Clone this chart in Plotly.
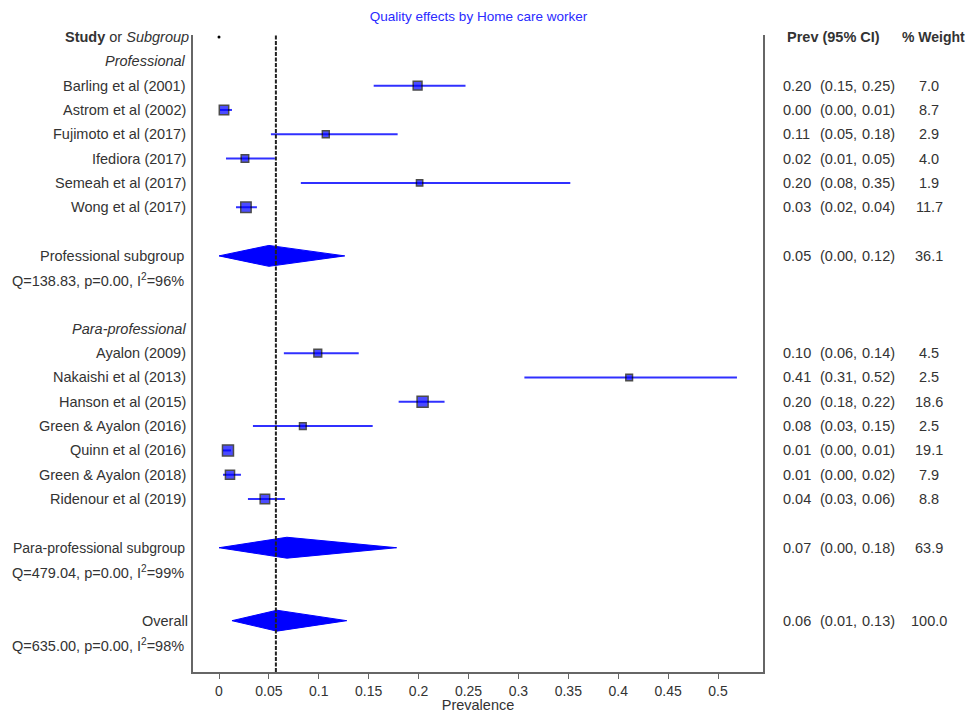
import plotly.graph_objects as go

# ---------------- data ----------------
title_text = "Quality effects by Home care worker"

prof_studies = ["Barling et al (2001)", "Astrom et al (2002)", "Fujimoto et al (2017)",
                "Ifediora (2017)", "Semeah et al (2017)", "Wong et al (2017)"]
para_studies = ["Ayalon (2009)", "Nakaishi et al (2013)", "Hanson et al (2015)",
                "Green & Ayalon (2016)", "Quinn et al (2016)", "Green & Ayalon (2018)",
                "Ridenour et al (2019)"]

# plotted estimates
prof_est = [0.199, 0.005, 0.107, 0.026, 0.201, 0.027]
prof_lo = [0.155, 0.001, 0.052, 0.007, 0.082, 0.017]
prof_hi = [0.247, 0.013, 0.179, 0.056, 0.352, 0.038]
para_est = [0.099, 0.411, 0.204, 0.084, 0.009, 0.011, 0.046]
para_lo = [0.065, 0.306, 0.180, 0.034, 0.004, 0.004, 0.029]
para_hi = [0.140, 0.519, 0.226, 0.154, 0.012, 0.022, 0.066]

# reported values (right-hand table)
prof_rep_est = [0.20, 0.00, 0.11, 0.02, 0.20, 0.03]
prof_rep_lo = [0.15, 0.00, 0.05, 0.01, 0.08, 0.02]
prof_rep_hi = [0.25, 0.01, 0.18, 0.05, 0.35, 0.04]
prof_weight = [7.0, 8.7, 2.9, 4.0, 1.9, 11.7]
para_rep_est = [0.10, 0.41, 0.20, 0.08, 0.01, 0.01, 0.04]
para_rep_lo = [0.06, 0.31, 0.18, 0.03, 0.00, 0.00, 0.03]
para_rep_hi = [0.14, 0.52, 0.22, 0.15, 0.01, 0.02, 0.06]
para_weight = [4.5, 2.5, 18.6, 2.5, 19.1, 7.9, 8.8]

# pooled estimates: professional subgroup, para-professional subgroup, overall
pooled_labels = ["Professional subgroup", "Para-professional subgroup", "Overall"]
pooled_est = [0.050, 0.068, 0.058]
pooled_lo = [0.000, 0.000, 0.013]
pooled_hi = [0.126, 0.178, 0.128]
pooled_rep_est = [0.05, 0.07, 0.06]
pooled_rep_lo = [0.00, 0.00, 0.01]
pooled_rep_hi = [0.12, 0.18, 0.13]
pooled_weight = [36.1, 63.9, 100.0]
het_Q = [138.83, 479.04, 635.00]
het_p = [0.00, 0.00, 0.00]
het_I2 = [96, 99, 98]

group_labels = ["Professional", "Para-professional"]
overall_line = 0.057

tick_vals = [0, 0.05, 0.1, 0.15, 0.2, 0.25, 0.3, 0.35, 0.4, 0.45, 0.5]
tick_text = ["0", "0.05", "0.1", "0.15", "0.2", "0.25", "0.3", "0.35", "0.4", "0.45", "0.5"]
x_title = "Prevalence"

# ---------------- layout rows ----------------
prof_rows = [2, 3, 4, 5, 6, 7]
para_rows = [13, 14, 15, 16, 17, 18, 19]
group_rows = [1, 12]
pooled_rows = [9, 21, 24]
het_rows = [10, 22, 25]

studies = prof_studies + para_studies
est = prof_est + para_est
lo = prof_lo + para_lo
hi = prof_hi + para_hi
rep_est = prof_rep_est + para_rep_est
rep_lo = prof_rep_lo + para_rep_lo
rep_hi = prof_rep_hi + para_rep_hi
weight = prof_weight + para_weight
rows = prof_rows + para_rows

TXT = "#333333"
FONT = "Liberation Sans, Arial, sans-serif"
FS = 14.5
BLUE = "#0000ff"

# page body margin offset (browser default 8px)
OFF = 8
FIG_W, FIG_H = 973 - OFF, 713 - OFF

fig = go.Figure()

# CI lines
cx, cy = [], []
for l, h, r in zip(lo, hi, rows):
    cx += [l, h, None]
    cy += [r, r, None]
fig.add_trace(go.Scatter(x=cx, y=cy, mode="lines",
                         line=dict(color="#3030ff", width=2),
                         hoverinfo="skip", showlegend=False))

# squares
sizes = [min(11, 3.5 + 2.0 * w ** 0.5) for w in weight]
fig.add_trace(go.Scatter(x=est, y=rows, mode="markers",
                         marker=dict(symbol="square", size=sizes, color=BLUE,
                                     line=dict(color="black", width=1.5)),
                         text=studies, showlegend=False))

# diamonds
hh = 0.43
for e, l, h, r in zip(pooled_est, pooled_lo, pooled_hi, pooled_rows):
    fig.add_trace(go.Scatter(x=[l, e, h, e, l], y=[r, r - hh, r, r + hh, r],
                             mode="lines", fill="toself", fillcolor=BLUE,
                             line=dict(color=BLUE, width=1),
                             hoverinfo="skip", showlegend=False))

# small dot at top
fig.add_trace(go.Scatter(x=[0], y=[0], mode="markers",
                         marker=dict(color="black", size=3),
                         hoverinfo="skip", showlegend=False))

# reference dashed line
fig.add_shape(type="line", x0=overall_line, x1=overall_line, y0=0, y1=1,
              xref="x", yref="paper",
              line=dict(color="#222222", width=2, dash="4px,1.5px"))

# ---------------- text ----------------
L0, L1 = 193, 763          # plot area in screen pixels
T0, B0 = 35, 672
W = L1 - L0


def px(p):
    return (p - L0) / W


anns = []


def add(text, x, r, anchor, color=TXT, size=FS):
    anns.append(dict(text=text, x=px(x), y=r, xref="paper", yref="y",
                     xanchor=anchor, yanchor="middle", showarrow=False,
                     font=dict(family=FONT, size=size, color=color)))


add("<b>Study</b> or <i>Subgroup</i>", 191, 0, "right")
for g, r in zip(group_labels, group_rows):
    add("<i>" + g + "</i>", 188, r, "right")
for s, r in zip(studies, rows):
    add(s, 188, r, "right")
for lab, r in zip(pooled_labels, pooled_rows):
    if lab == "Overall":
        add(lab, 190, r, "right")
    elif lab.startswith("Para"):
        add(lab, 187, r, "right", size=14)
    else:
        add(lab, 186, r, "right")
for q, p, i2, r in zip(het_Q, het_p, het_I2, het_rows):
    add(f"Q={q:.2f}, p={p:.2f}, I<sup>2</sup>={i2}%", 10, r, "left")

add("<b>Prev (95% CI)</b>", 785, 0, "left")
add("<b>% Weight</b>", 900, 0, "left", size=14)

all_rep = list(zip(rep_est, rep_lo, rep_hi, weight, rows)) + \
    list(zip(pooled_rep_est, pooled_rep_lo, pooled_rep_hi, pooled_weight, pooled_rows))
for e, l, h, w, r in all_rep:
    add(f"{e:.2f}", 781, r, "left")
    add(f"({l:.2f},", 818, r, "left")
    add(f"{h:.2f})", 897, r, "right")
    add(f"{w:.1f}", 929, r, "center")

fig.update_layout(
    width=FIG_W, height=FIG_H,
    margin=dict(l=L0 - OFF, r=FIG_W - (L1 - OFF), t=T0 - OFF, b=FIG_H - (B0 - OFF),
                autoexpand=False),
    paper_bgcolor="white", plot_bgcolor="white",
    title=dict(text=title_text, x=px(478.5), xref="paper", xanchor="center",
               y=1 - (16 - OFF) / FIG_H, yref="container", yanchor="middle",
               font=dict(family=FONT, size=13.5, color="#2a2aff")),
    annotations=anns,
    showlegend=False,
    xaxis=dict(range=[(L0 - 219) / 998, (L1 - 219) / 998],
               tickvals=tick_vals, ticktext=tick_text,
               ticks="outside", ticklen=5, tickcolor="#666666", tickwidth=1,
               showline=True, linecolor="#666666", linewidth=2,
               showgrid=False, zeroline=False, automargin=False,
               tickfont=dict(family=FONT, size=14, color=TXT),
               title=dict(text=x_title, standoff=2,
                          font=dict(family=FONT, size=14.5, color=TXT))),
    yaxis=dict(range=[(B0 - 37) / 24.32, (T0 - 37) / 24.32],
               showline=True, mirror=True, linecolor="#666666", linewidth=2,
               showticklabels=False, ticks="", showgrid=False, zeroline=False,
               automargin=False),
)

fig.write_html("out.html")
